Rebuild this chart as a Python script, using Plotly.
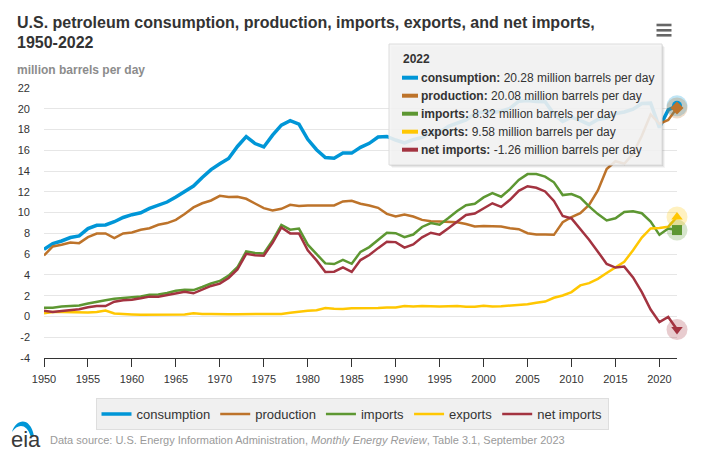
import plotly.graph_objects as go

# ---------------- data (million barrels per day) ----------------
years = list(range(1950, 2023))

consumption = [6.46, 7.02, 7.27, 7.60, 7.76, 8.46, 8.78, 8.81, 9.12, 9.53,
               9.80, 9.98, 10.40, 10.74, 11.02, 11.51, 12.08, 12.56, 13.39, 14.14,
               14.70, 15.21, 16.37, 17.31, 16.65, 16.32, 17.46, 18.43, 18.85, 18.51,
               17.06, 16.06, 15.30, 15.23, 15.73, 15.73, 16.28, 16.67, 17.28, 17.33,
               16.99, 16.71, 17.03, 17.24, 17.72, 17.72, 18.31, 18.62, 18.92, 19.52,
               19.70, 19.65, 19.76, 20.03, 20.73, 20.80, 20.69, 20.68, 19.50, 18.77,
               19.18, 18.88, 18.49, 18.97, 19.11, 19.53, 19.69, 19.96, 20.51, 20.54,
               18.19, 19.89, 20.28]

production = [5.87, 6.74, 6.90, 7.13, 7.06, 7.64, 7.99, 7.99, 7.54, 7.99,
              8.09, 8.35, 8.50, 8.83, 8.99, 9.30, 9.86, 10.50, 10.90, 11.17,
              11.62, 11.50, 11.52, 11.33, 10.88, 10.43, 10.20, 10.37, 10.75, 10.63,
              10.69, 10.66, 10.69, 10.69, 11.08, 11.14, 10.85, 10.68, 10.46, 9.88,
              9.62, 9.81, 9.62, 9.30, 9.17, 9.14, 9.14, 9.08, 8.91, 8.66,
              8.72, 8.66, 8.66, 8.50, 8.40, 8.02, 7.89, 7.89, 7.86, 9.08,
              9.56, 9.94, 10.74, 12.13, 14.20, 14.95, 14.70, 15.66, 17.40, 19.45,
              18.55, 18.93, 20.08]

imports = [0.85, 0.84, 0.95, 1.03, 1.05, 1.25, 1.44, 1.57, 1.70, 1.78,
           1.81, 1.92, 2.08, 2.12, 2.26, 2.47, 2.57, 2.54, 2.84, 3.17,
           3.42, 3.93, 4.74, 6.26, 6.11, 6.06, 7.31, 8.81, 8.36, 8.46,
           6.91, 6.00, 5.11, 5.05, 5.44, 5.07, 6.22, 6.68, 7.40, 8.06,
           8.02, 7.63, 7.89, 8.62, 9.00, 8.83, 9.48, 10.16, 10.71, 10.85,
           11.46, 11.87, 11.53, 12.26, 13.15, 13.71, 13.71, 13.47, 12.92, 11.69,
           11.79, 11.44, 10.60, 9.86, 9.24, 9.45, 10.06, 10.14, 9.94, 9.14,
           7.86, 8.47, 8.32]

exports = [0.31, 0.42, 0.43, 0.40, 0.36, 0.37, 0.43, 0.57, 0.28, 0.21,
           0.20, 0.17, 0.17, 0.21, 0.20, 0.19, 0.20, 0.31, 0.23, 0.23,
           0.26, 0.22, 0.22, 0.23, 0.22, 0.21, 0.22, 0.24, 0.36, 0.47,
           0.54, 0.60, 0.82, 0.74, 0.72, 0.78, 0.79, 0.76, 0.82, 0.86,
           0.86, 1.00, 0.95, 1.00, 0.94, 0.95, 0.98, 1.00, 0.94, 0.94,
           1.04, 0.97, 0.98, 1.03, 1.05, 1.17, 1.32, 1.43, 1.80, 2.02,
           2.35, 2.99, 3.21, 3.62, 4.18, 4.74, 5.26, 6.38, 7.60, 8.47,
           8.51, 8.63, 9.58]

net_imports = [0.54, 0.42, 0.52, 0.63, 0.69, 0.88, 1.01, 1.00, 1.42, 1.57,
               1.61, 1.75, 1.91, 1.91, 2.06, 2.28, 2.37, 2.23, 2.61, 2.94,
               3.16, 3.71, 4.52, 6.03, 5.89, 5.85, 7.09, 8.57, 8.00, 7.99,
               6.37, 5.40, 4.29, 4.31, 4.72, 4.29, 5.43, 5.92, 6.58, 7.20,
               7.16, 6.63, 6.94, 7.62, 8.06, 7.88, 8.50, 9.16, 9.77, 9.91,
               10.42, 10.90, 10.55, 11.23, 12.10, 12.54, 12.39, 12.04, 11.12, 9.67,
               9.44, 8.45, 7.39, 6.24, 5.06, 4.71, 4.80, 3.76, 2.34, 0.67,
               -0.55, -0.05, -1.26]

series_names = ["consumption", "production", "imports", "exports", "net imports"]
series_values = [consumption, production, imports, exports, net_imports]
series_colors = ["#0096d7", "#bd732a", "#5d9732", "#ffc702", "#a33340"]
series_widths = [3.5, 2.5, 2.5, 2.5, 2.5]
hover_symbols = ["circle", "diamond", "square", "triangle-up", "triangle-down"]

x_ticks = list(range(1950, 2021, 5))
y_ticks = list(range(-4, 23, 2))

title_line1 = "U.S. petroleum consumption, production, imports, exports, and net imports,"
title_line2 = "1950-2022"
subtitle = "million barrels per day"
unit_text = "million barrels per day"
source_text = ("Data source: U.S. Energy Information Administration, "
               "<i>Monthly Energy Review</i>, Table 3.1, September 2023")

# ---------------- layout geometry ----------------
W, H = 704, 456
L, R, T, B = 44, 27, 88, 98
PW, PH = W - L - R, H - T - B


def pxx(x):
    return (x - L) / PW


def pyy(y):
    return (H - B - y) / PH


FONT = "Liberation Sans, Arial, Helvetica, sans-serif"

fig = go.Figure()

for name, vals, col, lw in zip(series_names, series_values, series_colors, series_widths):
    fig.add_trace(go.Scatter(
        x=years, y=vals, name=name, mode="lines",
        line=dict(color=col, width=lw), hoverinfo="skip", cliponaxis=False))

# hover state markers for the last year (halo + marker)
last = years[-1]
for name, vals, col, sym in zip(series_names, series_values, series_colors, hover_symbols):
    fig.add_trace(go.Scatter(
        x=[last], y=[vals[-1]], mode="markers", showlegend=False, hoverinfo="skip",
        marker=dict(symbol="circle", size=21, color=col, opacity=0.25, line=dict(width=0)),
        cliponaxis=False))
for name, vals, col, sym in zip(series_names, series_values, series_colors, hover_symbols):
    fig.add_trace(go.Scatter(
        x=[last], y=[vals[-1]], mode="markers", showlegend=False, hoverinfo="skip",
        marker=dict(symbol=sym, size=10, color=col, line=dict(width=0)),
        cliponaxis=False))

shapes = []
annotations = []

# tooltip (shadow + box)
bx0, bx1, by0, by1 = 389, 662, 44, 165
for off, a in [(3, 0.04), (2, 0.06), (1, 0.09)]:
    shapes.append(dict(type="rect", xref="paper", yref="paper", layer="above",
                       x0=pxx(bx0 + off), x1=pxx(bx1 + off), y0=pyy(by1 + off), y1=pyy(by0 + off),
                       line=dict(width=0), fillcolor="rgba(0,0,0,%s)" % a))
shapes.append(dict(type="rect", xref="paper", yref="paper", layer="above",
                   x0=pxx(bx0), x1=pxx(bx1), y0=pyy(by1), y1=pyy(by0),
                   line=dict(width=1, color="#dcdcdc"), fillcolor="rgba(246,246,246,0.88)"))

annotations.append(dict(xref="paper", yref="paper", x=pxx(401), y=pyy(59.5),
                        xanchor="left", yanchor="middle", showarrow=False,
                        text="<b>%d</b>" % last, font=dict(family=FONT, size=12, color="#333")))
for i, (name, vals, col) in enumerate(zip(series_names, series_values, series_colors)):
    yc = 77.7 + 18 * i
    shapes.append(dict(type="line", xref="paper", yref="paper", layer="above",
                       x0=pxx(402), x1=pxx(418), y0=pyy(yc), y1=pyy(yc),
                       line=dict(color=col, width=4)))
    annotations.append(dict(xref="paper", yref="paper", x=pxx(419), y=pyy(yc),
                            xanchor="left", yanchor="middle", showarrow=False,
                            text="<b>%s:</b> %.2f %s" % (name, vals[-1], unit_text),
                            font=dict(family=FONT, size=12, color="#333")))

# titles
annotations.append(dict(xref="paper", yref="paper", x=pxx(15), y=pyy(22.6),
                        xanchor="left", yanchor="middle", showarrow=False,
                        text="<b>%s</b>" % title_line1, font=dict(family=FONT, size=16, color="#333")))
annotations.append(dict(xref="paper", yref="paper", x=pxx(15), y=pyy(42.0),
                        xanchor="left", yanchor="middle", showarrow=False,
                        text="<b>%s</b>" % title_line2, font=dict(family=FONT, size=16, color="#333")))
annotations.append(dict(xref="paper", yref="paper", x=pxx(15), y=pyy(69.8),
                        xanchor="left", yanchor="middle", showarrow=False,
                        text="<b>%s</b>" % subtitle, font=dict(family=FONT, size=12, color="#8c8c8c")))

# footer
annotations.append(dict(xref="paper", yref="paper", x=pxx(48), y=pyy(440),
                        xanchor="left", yanchor="middle", showarrow=False,
                        text=source_text, font=dict(family=FONT, size=11, color="#9a9a9a")))
annotations.append(dict(xref="paper", yref="paper", x=pxx(9), y=pyy(439),
                        xanchor="left", yanchor="middle", showarrow=False,
                        text="eia", font=dict(family=FONT, size=22, color="#3a3a3a")))


def path_px(pts):
    cmds = []
    for c, *xy in pts:
        coords = []
        for j in range(0, len(xy), 2):
            coords.append("%.5f,%.5f" % (pxx(xy[j]), pyy(xy[j + 1])))
        cmds.append(c + " " + " ".join(coords))
    return " ".join(cmds) + " Z"


swoosh = path_px([("M", 12, 432), ("C", 16, 419, 30, 416, 34, 436),
                  ("L", 30.5, 436), ("C", 27, 424, 18, 423, 12, 432)])
shapes.append(dict(type="path", xref="paper", yref="paper", path=swoosh,
                   fillcolor="#0096d7", line=dict(width=0), layer="above"))

# menu icon
for yy in (25, 30.3, 35.3):
    shapes.append(dict(type="line", xref="paper", yref="paper", layer="above",
                       x0=pxx(656.5), x1=pxx(671.5), y0=pyy(yy), y1=pyy(yy),
                       line=dict(color="#666", width=2.6)))

fig.update_layout(
    width=W, height=H,
    margin=dict(l=L, r=R, t=T, b=B, pad=0),
    paper_bgcolor="white", plot_bgcolor="white",
    font=dict(family=FONT, color="#333"),
    showlegend=True,
    legend=dict(orientation="h", x=pxx(352), xanchor="center", y=pyy(398), yanchor="top",
                bgcolor="#f0f0f0", bordercolor="#dedede", borderwidth=1,
                font=dict(family=FONT, size=13, color="#333"), itemclick=False,
                itemdoubleclick=False, tracegroupgap=0),
    xaxis=dict(range=[1950, 2022], tickvals=x_ticks, ticktext=[str(v) for v in x_ticks],
               showgrid=False, zeroline=False, showline=True, linecolor="#333", linewidth=1,
               ticks="outside", ticklen=8, tickcolor="#333", tickwidth=1,
               tickfont=dict(family=FONT, size=11, color="#333"), ticklabelstandoff=3,
               fixedrange=True),
    yaxis=dict(range=[-4, 22], tickvals=y_ticks, ticktext=[str(v) for v in y_ticks],
               showgrid=True, gridcolor="#e6e6e6", gridwidth=1, zeroline=False,
               showline=False, ticks="", tickfont=dict(family=FONT, size=11, color="#333"),
               ticklabelstandoff=13, fixedrange=True),
    shapes=shapes,
    annotations=annotations,
    hovermode=False,
)

fig.write_html("out.html", config={"displayModeBar": False})
